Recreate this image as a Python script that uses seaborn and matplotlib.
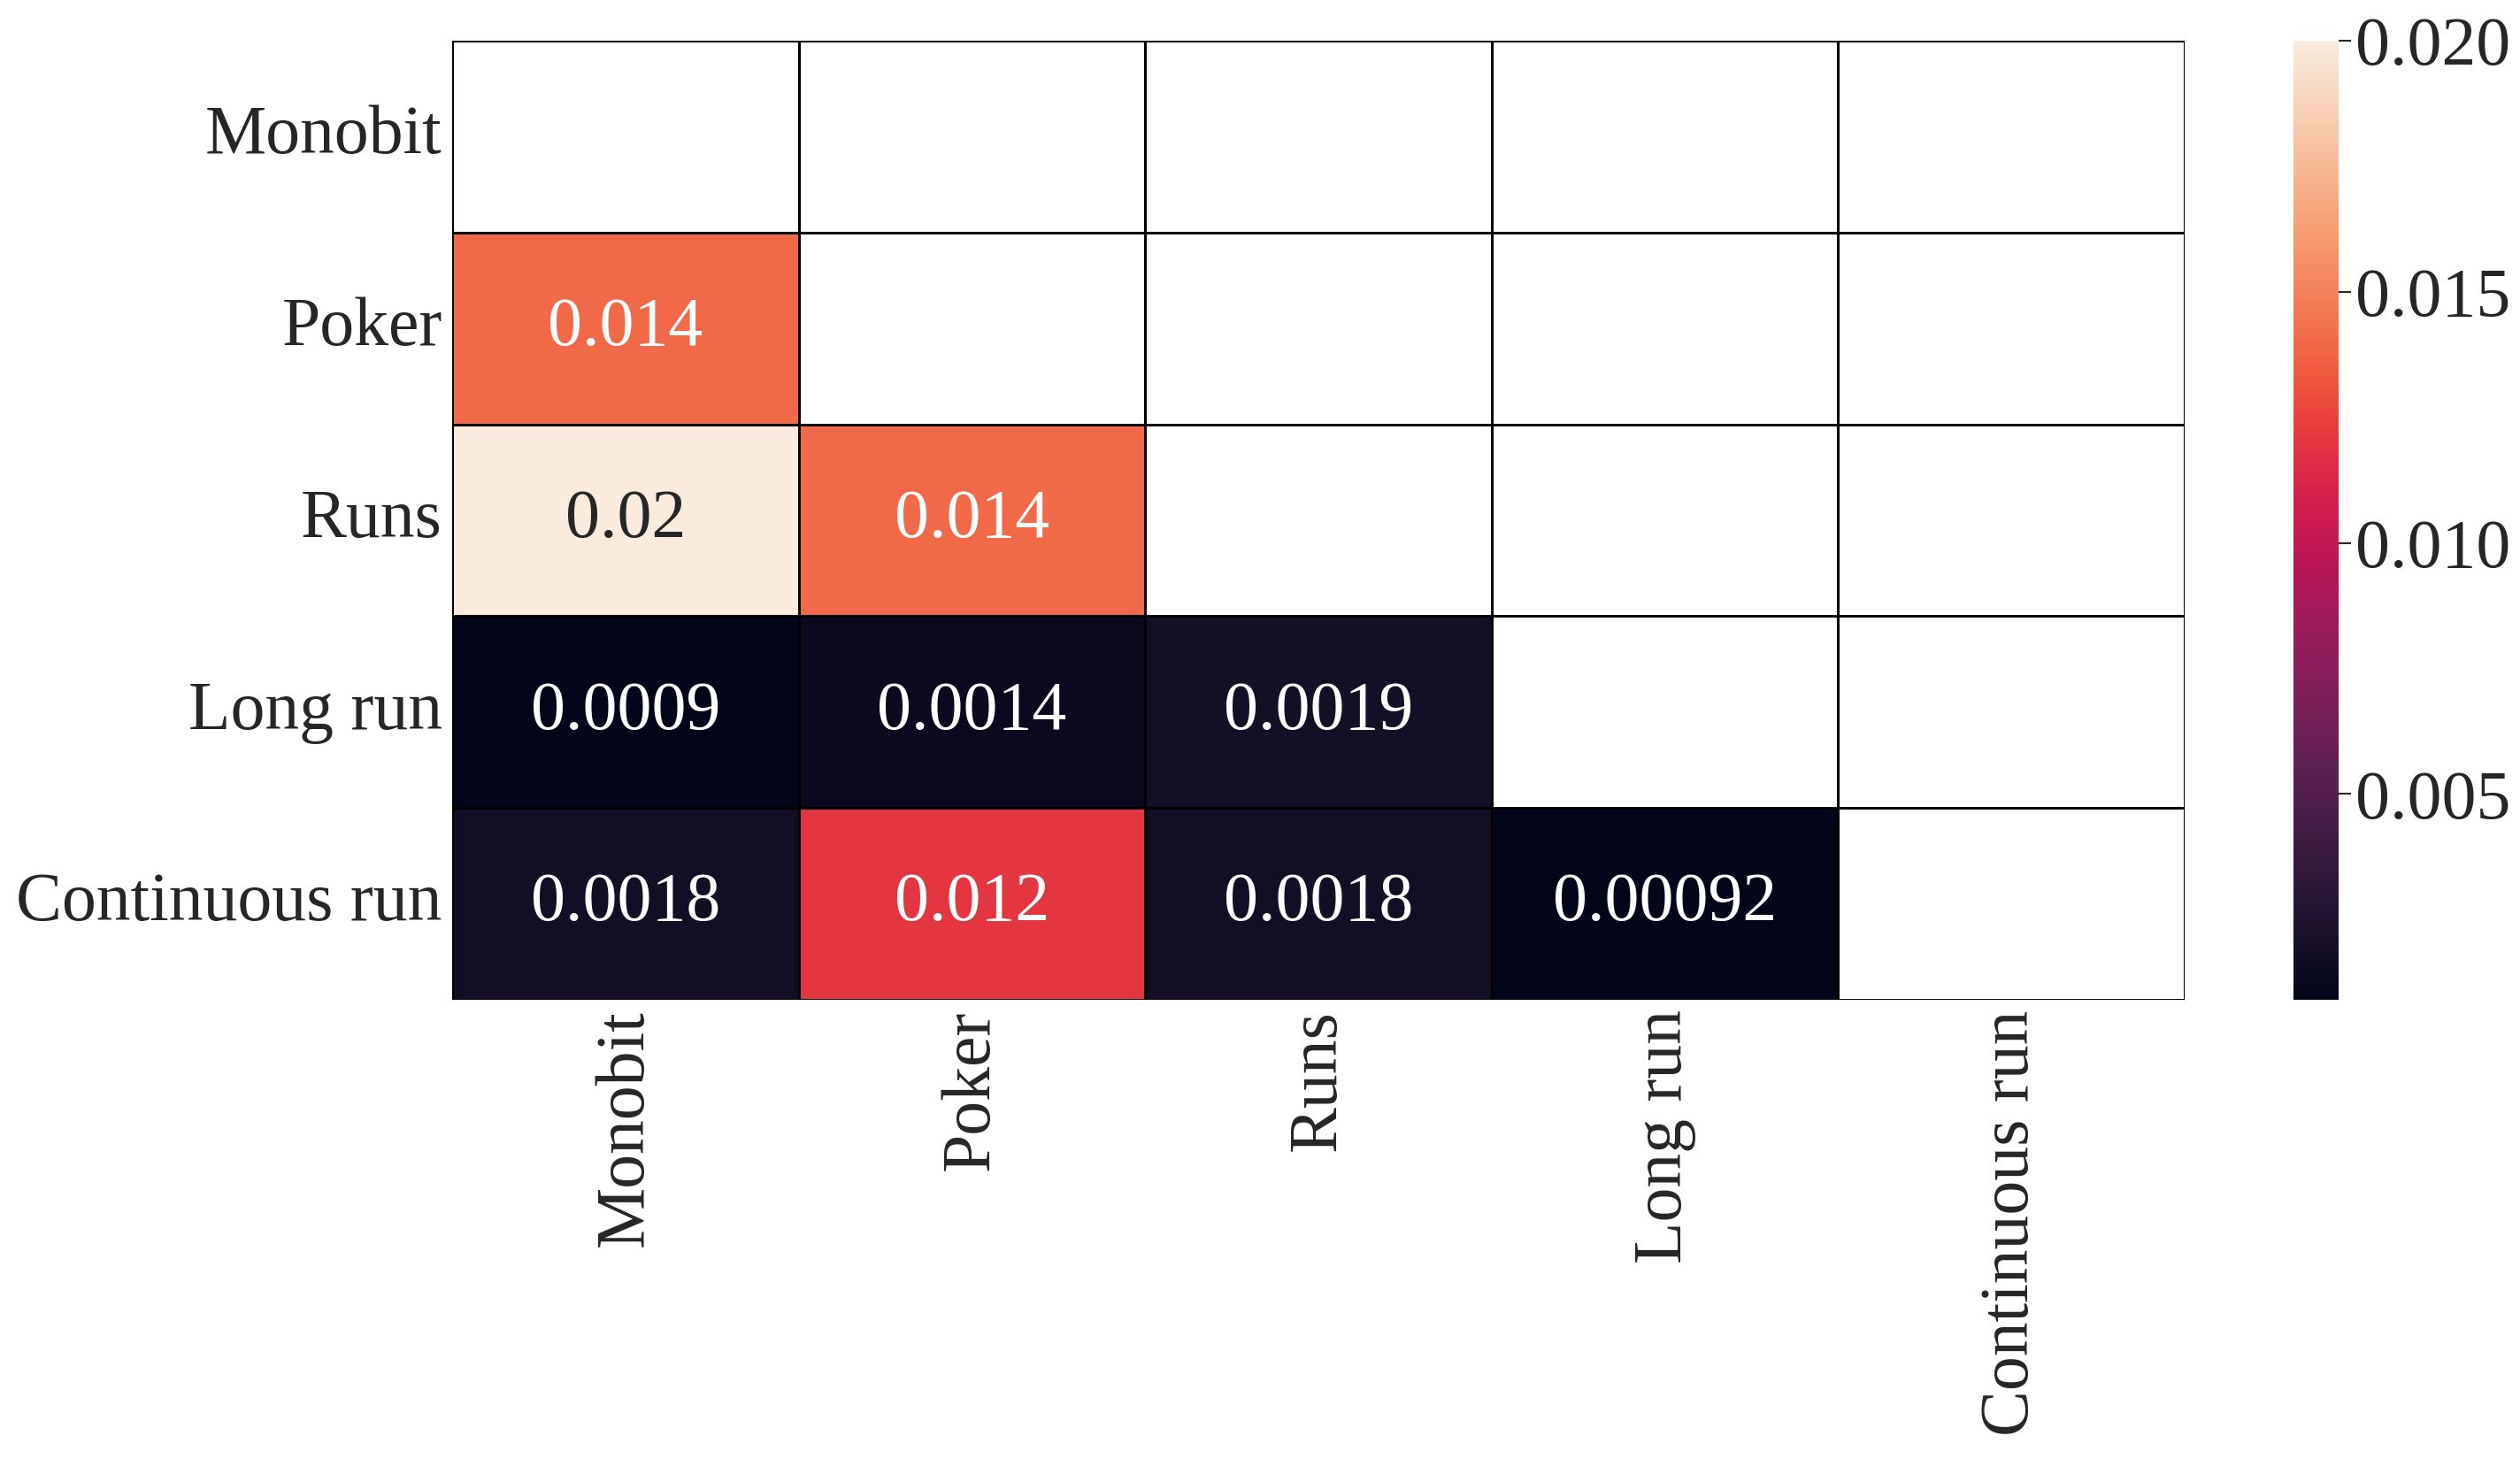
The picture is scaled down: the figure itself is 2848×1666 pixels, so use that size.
import numpy as np
import pandas as pd
import matplotlib
matplotlib.use("Agg")
import matplotlib.pyplot as plt
import seaborn as sns

tests = ["Monobit", "Poker", "Runs", "Long run", "Continuous run"]
row_monobit = [np.nan, np.nan, np.nan, np.nan, np.nan]
row_poker = [0.014, np.nan, np.nan, np.nan, np.nan]
row_runs = [0.02, 0.014, np.nan, np.nan, np.nan]
row_long = [0.0009, 0.0014, 0.0019, np.nan, np.nan]
row_cont = [0.0018, 0.012, 0.0018, 0.00092, np.nan]

df = pd.DataFrame([row_monobit, row_poker, row_runs, row_long, row_cont],
                  index=tests, columns=tests)

sns.set_theme(style="white")
plt.rcParams['font.family'] = ['Liberation Serif', 'DejaVu Serif']
plt.rcParams['text.color'] = '#262626'

fig = plt.figure(figsize=(28.48, 16.66), dpi=100)
ax = fig.add_axes([0.1794, 0.3217, 0.6875, 0.6507])
cax = fig.add_axes([0.9101, 0.3217, 0.0179, 0.6507])

sns.heatmap(df, ax=ax, cbar_ax=cax, cmap="rocket", annot=True, fmt=".2g",
            annot_kws={"fontsize": 56}, linewidths=2, linecolor="black")

n = len(tests)
for i in range(n + 1):
    ax.axhline(i, color="black", lw=2, zorder=3)
    ax.axvline(i, color="black", lw=2, zorder=3)

ax.tick_params(axis="both", length=0, labelsize=56, colors='#262626', pad=8)
ax.set_xticklabels(tests, rotation=90)
ax.set_yticklabels(tests, rotation=0)

cax.tick_params(labelsize=56, length=10, width=1.5, colors='#262626', pad=4)
cax.set_yticks([0.005, 0.010, 0.015, 0.020])
cax.set_yticklabels(["0.005", "0.010", "0.015", "0.020"])
for s in cax.spines.values():
    s.set_visible(False)

fig.savefig("out.png", dpi=100)
